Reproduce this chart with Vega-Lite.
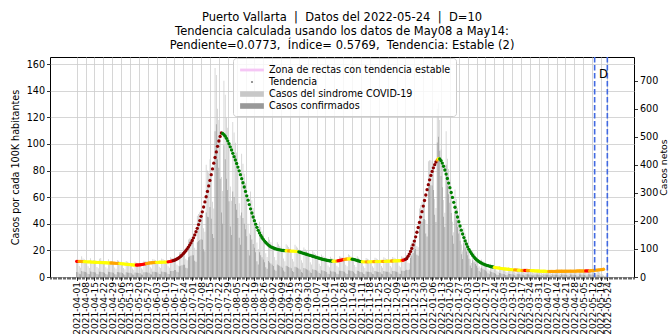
{
"$schema":"https://vega.github.io/schema/vega-lite/v6.json",
"width":584,"height":220,
"autosize":{"type":"none"},
"padding":{"left":50,"top":57,"right":38,"bottom":59},
"background":"white",
"config":{"view":{"stroke":"#000","strokeWidth":1},"font":"DejaVu Sans"},
"title":{"text":["Puerto Vallarta \u00a0|\u00a0 Datos del 2022-05-24 \u00a0|\u00a0 D=10","Tendencia calculada usando los datos de May08 a May14:","Pendiente=0.0773, \u00a0Índice= 0.5769, \u00a0Tendencia: Estable (2)"],"font":"DejaVu Sans","fontSize":11.5,"fontWeight":"normal","color":"#000","lineHeight":14,"offset":5,"anchor":"middle"},
"data":{"values":[
{"d":"2021-04-01","t":11.8,"k":"r","s":61,"c":18},{"d":"2021-04-02","t":11.8,"k":"r","s":56,"c":17},{"d":"2021-04-03","t":11.7,"k":"o","s":39,"c":12},{"d":"2021-04-04","t":11.7,"k":"o","s":33,"c":10},{"d":"2021-04-05","t":11.6,"k":"o","s":74,"c":21},{"d":"2021-04-06","t":11.6,"k":"o","s":66,"c":20},{"d":"2021-04-07","t":11.5,"k":"y","s":63,"c":19},{"d":"2021-04-08","t":11.5,"k":"y","s":60,"c":18},{"d":"2021-04-09","t":11.4,"k":"y","s":54,"c":16},{"d":"2021-04-10","t":11.4,"k":"y","s":38,"c":11},{"d":"2021-04-11","t":11.3,"k":"y","s":32,"c":10},{"d":"2021-04-12","t":11.3,"k":"y","s":67,"c":20},{"d":"2021-04-13","t":11.2,"k":"y","s":58,"c":19},{"d":"2021-04-14","t":11.2,"k":"y","s":61,"c":18},{"d":"2021-04-15","t":11.1,"k":"y","s":58,"c":17},{"d":"2021-04-16","t":11.1,"k":"y","s":53,"c":16},{"d":"2021-04-17","t":11.0,"k":"y","s":36,"c":11},{"d":"2021-04-18","t":11.0,"k":"y","s":31,"c":9},{"d":"2021-04-19","t":10.9,"k":"y","s":65,"c":19},{"d":"2021-04-20","t":10.9,"k":"y","s":68,"c":19},{"d":"2021-04-21","t":10.8,"k":"y","s":59,"c":18},{"d":"2021-04-22","t":10.8,"k":"y","s":56,"c":17},{"d":"2021-04-23","t":10.7,"k":"y","s":51,"c":15},{"d":"2021-04-24","t":10.7,"k":"y","s":35,"c":11},{"d":"2021-04-25","t":10.6,"k":"y","s":30,"c":9},{"d":"2021-04-26","t":10.6,"k":"y","s":63,"c":19},{"d":"2021-04-27","t":10.5,"k":"y","s":55,"c":18},{"d":"2021-04-28","t":10.5,"k":"o","s":57,"c":17},{"d":"2021-04-29","t":10.5,"k":"o","s":55,"c":16},{"d":"2021-04-30","t":10.4,"k":"o","s":49,"c":15},
{"d":"2021-05-01","t":10.4,"k":"o","s":34,"c":10},{"d":"2021-05-02","t":10.3,"k":"o","s":29,"c":9},{"d":"2021-05-03","t":10.3,"k":"o","s":61,"c":18},{"d":"2021-05-04","t":10.2,"k":"o","s":58,"c":17},{"d":"2021-05-05","t":10.1,"k":"y","s":55,"c":16},{"d":"2021-05-06","t":10.0,"k":"y","s":52,"c":16},{"d":"2021-05-07","t":9.9,"k":"y","s":47,"c":14},{"d":"2021-05-08","t":9.8,"k":"y","s":32,"c":10},{"d":"2021-05-09","t":9.7,"k":"y","s":28,"c":8},{"d":"2021-05-10","t":9.6,"k":"y","s":57,"c":17},{"d":"2021-05-11","t":9.5,"k":"y","s":54,"c":16},{"d":"2021-05-12","t":9.4,"k":"y","s":51,"c":15},{"d":"2021-05-13","t":9.3,"k":"y","s":48,"c":15},{"d":"2021-05-14","t":9.2,"k":"y","s":44,"c":13},{"d":"2021-05-15","t":9.1,"k":"y","s":30,"c":9},{"d":"2021-05-16","t":9.0,"k":"y","s":26,"c":8},{"d":"2021-05-17","t":9.0,"k":"y","s":54,"c":16},{"d":"2021-05-18","t":9.0,"k":"r","s":51,"c":15},{"d":"2021-05-19","t":9.0,"k":"r","s":49,"c":15},{"d":"2021-05-20","t":9.1,"k":"r","s":47,"c":14},{"d":"2021-05-21","t":9.2,"k":"r","s":44,"c":13},{"d":"2021-05-22","t":9.3,"k":"r","s":31,"c":9},{"d":"2021-05-23","t":9.5,"k":"r","s":27,"c":8},{"d":"2021-05-24","t":9.7,"k":"r","s":58,"c":17},{"d":"2021-05-25","t":9.9,"k":"r","s":56,"c":17},{"d":"2021-05-26","t":10.1,"k":"o","s":55,"c":17},{"d":"2021-05-27","t":10.3,"k":"o","s":54,"c":16},{"d":"2021-05-28","t":10.5,"k":"o","s":50,"c":15},{"d":"2021-05-29","t":10.6,"k":"o","s":35,"c":10},{"d":"2021-05-30","t":10.7,"k":"o","s":30,"c":9},{"d":"2021-05-31","t":10.8,"k":"o","s":64,"c":19},
{"d":"2021-06-01","t":10.9,"k":"o","s":62,"c":19},{"d":"2021-06-02","t":11.0,"k":"o","s":60,"c":18},{"d":"2021-06-03","t":11.0,"k":"y","s":57,"c":17},{"d":"2021-06-04","t":11.0,"k":"y","s":52,"c":16},{"d":"2021-06-05","t":11.1,"k":"y","s":37,"c":11},{"d":"2021-06-06","t":11.1,"k":"y","s":32,"c":10},{"d":"2021-06-07","t":11.1,"k":"y","s":66,"c":20},{"d":"2021-06-08","t":11.2,"k":"y","s":64,"c":19},{"d":"2021-06-09","t":11.2,"k":"y","s":61,"c":18},{"d":"2021-06-10","t":11.2,"k":"y","s":58,"c":17},{"d":"2021-06-11","t":11.3,"k":"y","s":54,"c":16},{"d":"2021-06-12","t":11.4,"k":"r","s":38,"c":11},{"d":"2021-06-13","t":11.6,"k":"r","s":33,"c":10},{"d":"2021-06-14","t":11.8,"k":"r","s":70,"c":21},{"d":"2021-06-15","t":12.0,"k":"r","s":68,"c":21},{"d":"2021-06-16","t":12.3,"k":"dr","s":67,"c":21},{"d":"2021-06-17","t":12.6,"k":"dr","s":66,"c":25},{"d":"2021-06-18","t":13.0,"k":"dr","s":62,"c":25},{"d":"2021-06-19","t":13.5,"k":"dr","s":45,"c":19},{"d":"2021-06-20","t":14.1,"k":"dr","s":40,"c":17},{"d":"2021-06-21","t":14.8,"k":"dr","s":88,"c":38},{"d":"2021-06-22","t":15.6,"k":"dr","s":89,"c":40},{"d":"2021-06-23","t":16.5,"k":"dr","s":90,"c":42},{"d":"2021-06-24","t":17.5,"k":"dr","s":91,"c":44},{"d":"2021-06-25","t":18.6,"k":"dr","s":88,"c":44},{"d":"2021-06-26","t":19.8,"k":"dr","s":65,"c":33},{"d":"2021-06-27","t":21.1,"k":"dr","s":60,"c":31},{"d":"2021-06-28","t":22.5,"k":"dr","s":134,"c":70},{"d":"2021-06-29","t":24.0,"k":"dr","s":137,"c":73},{"d":"2021-06-30","t":25.6,"k":"dr","s":140,"c":76},
{"d":"2021-07-01","t":27.4,"k":"dr","s":142,"c":78},{"d":"2021-07-02","t":29.4,"k":"dr","s":140,"c":78},{"d":"2021-07-03","t":31.6,"k":"dr","s":104,"c":58},{"d":"2021-07-04","t":34.0,"k":"dr","s":97,"c":54},{"d":"2021-07-05","t":36.6,"k":"dr","s":218,"c":124},{"d":"2021-07-06","t":39.4,"k":"dr","s":225,"c":128},{"d":"2021-07-07","t":42.4,"k":"dr","s":231,"c":132},{"d":"2021-07-08","t":45.6,"k":"dr","s":237,"c":135},{"d":"2021-07-09","t":49.0,"k":"dr","s":233,"c":133},{"d":"2021-07-10","t":52.6,"k":"dr","s":174,"c":99},{"d":"2021-07-11","t":56.4,"k":"dr","s":161,"c":92},{"d":"2021-07-12","t":60.3,"k":"dr","s":400,"c":230},{"d":"2021-07-13","t":64.3,"k":"dr","s":380,"c":215},{"d":"2021-07-14","t":68.4,"k":"dr","s":373,"c":213},{"d":"2021-07-15","t":72.6,"k":"dr","s":420,"c":250},{"d":"2021-07-16","t":76.9,"k":"dr","s":365,"c":208},{"d":"2021-07-17","t":81.2,"k":"dr","s":268,"c":153},{"d":"2021-07-18","t":85.5,"k":"dr","s":244,"c":139},{"d":"2021-07-19","t":89.8,"k":"dr","s":745,"c":520},{"d":"2021-07-20","t":94.0,"k":"dr","s":720,"c":545},{"d":"2021-07-21","t":98.2,"k":"dr","s":600,"c":420},{"d":"2021-07-22","t":102.2,"k":"dr","s":560,"c":390},{"d":"2021-07-23","t":105.6,"k":"dr","s":520,"c":350},{"d":"2021-07-24","t":108.2,"k":"dr","s":357,"c":230},{"d":"2021-07-25","t":107.8,"k":"g","s":307,"c":190},{"d":"2021-07-26","t":107.0,"k":"g","s":700,"c":470},{"d":"2021-07-27","t":105.8,"k":"g","s":650,"c":420},{"d":"2021-07-28","t":104.2,"k":"g","s":568,"c":350},{"d":"2021-07-29","t":102.3,"k":"g","s":532,"c":310},{"d":"2021-07-30","t":100.1,"k":"g","s":475,"c":270},{"d":"2021-07-31","t":97.8,"k":"g","s":323,"c":180},
{"d":"2021-08-01","t":95.4,"k":"g","s":272,"c":150},{"d":"2021-08-02","t":92.9,"k":"g","s":553,"c":305},{"d":"2021-08-03","t":90.4,"k":"g","s":515,"c":285},{"d":"2021-08-04","t":87.9,"k":"g","s":479,"c":260},{"d":"2021-08-05","t":85.3,"k":"g","s":444,"c":240},{"d":"2021-08-06","t":82.6,"k":"g","s":392,"c":210},{"d":"2021-08-07","t":79.8,"k":"g","s":263,"c":140},{"d":"2021-08-08","t":76.9,"k":"g","s":219,"c":115},{"d":"2021-08-09","t":73.9,"k":"g","s":440,"c":230},{"d":"2021-08-10","t":70.8,"k":"g","s":404,"c":210},{"d":"2021-08-11","t":67.6,"k":"g","s":368,"c":190},{"d":"2021-08-12","t":64.3,"k":"g","s":334,"c":170},{"d":"2021-08-13","t":61.0,"k":"g","s":290,"c":145},{"d":"2021-08-14","t":57.7,"k":"g","s":190,"c":95},{"d":"2021-08-15","t":54.4,"k":"g","s":155,"c":77},{"d":"2021-08-16","t":51.2,"k":"g","s":305,"c":150},{"d":"2021-08-17","t":48.1,"k":"g","s":274,"c":134},{"d":"2021-08-18","t":45.1,"k":"g","s":246,"c":118},{"d":"2021-08-19","t":42.3,"k":"g","s":220,"c":104},{"d":"2021-08-20","t":39.7,"k":"g","s":189,"c":88},{"d":"2021-08-21","t":37.3,"k":"g","s":123,"c":56},{"d":"2021-08-22","t":35.1,"k":"g","s":100,"c":45},{"d":"2021-08-23","t":33.1,"k":"g","s":197,"c":88},{"d":"2021-08-24","t":31.3,"k":"g","s":178,"c":78},{"d":"2021-08-25","t":29.7,"k":"g","s":162,"c":70},{"d":"2021-08-26","t":28.3,"k":"g","s":147,"c":62},{"d":"2021-08-27","t":27.0,"k":"g","s":128,"c":53},{"d":"2021-08-28","t":25.9,"k":"g","s":85,"c":35},{"d":"2021-08-29","t":24.9,"k":"g","s":71,"c":29},{"d":"2021-08-30","t":24.0,"k":"g","s":143,"c":57},{"d":"2021-08-31","t":23.3,"k":"g","s":133,"c":52},
{"d":"2021-09-01","t":22.7,"k":"g","s":124,"c":48},{"d":"2021-09-02","t":22.2,"k":"g","s":115,"c":44},{"d":"2021-09-03","t":21.8,"k":"g","s":104,"c":39},{"d":"2021-09-04","t":21.4,"k":"g","s":71,"c":26},{"d":"2021-09-05","t":21.1,"k":"g","s":60,"c":22},{"d":"2021-09-06","t":20.8,"k":"g","s":124,"c":45},{"d":"2021-09-07","t":20.6,"k":"g","s":117,"c":42},{"d":"2021-09-08","t":20.4,"k":"g","s":111,"c":40},{"d":"2021-09-09","t":20.2,"k":"g","s":105,"c":37},{"d":"2021-09-10","t":20.0,"k":"g","s":95,"c":33},{"d":"2021-09-11","t":19.9,"k":"g","s":66,"c":23},{"d":"2021-09-12","t":19.8,"k":"g","s":56,"c":19},{"d":"2021-09-13","t":19.7,"k":"y","s":117,"c":40},{"d":"2021-09-14","t":19.7,"k":"y","s":112,"c":38},{"d":"2021-09-15","t":19.6,"k":"o","s":107,"c":36},{"d":"2021-09-16","t":19.6,"k":"o","s":102,"c":34},{"d":"2021-09-17","t":19.5,"k":"y","s":93,"c":31},{"d":"2021-09-18","t":19.5,"k":"y","s":64,"c":21},{"d":"2021-09-19","t":19.4,"k":"y","s":55,"c":18},{"d":"2021-09-20","t":19.3,"k":"y","s":115,"c":37},{"d":"2021-09-21","t":19.2,"k":"y","s":109,"c":35},{"d":"2021-09-22","t":19.1,"k":"y","s":104,"c":33},{"d":"2021-09-23","t":18.9,"k":"g","s":98,"c":30},{"d":"2021-09-24","t":18.6,"k":"g","s":88,"c":27},{"d":"2021-09-25","t":18.3,"k":"g","s":60,"c":18},{"d":"2021-09-26","t":18.0,"k":"g","s":51,"c":15},{"d":"2021-09-27","t":17.7,"k":"g","s":105,"c":32},{"d":"2021-09-28","t":17.4,"k":"g","s":99,"c":30},{"d":"2021-09-29","t":17.1,"k":"g","s":93,"c":28},{"d":"2021-09-30","t":16.8,"k":"g","s":87,"c":26},
{"d":"2021-10-01","t":16.5,"k":"g","s":78,"c":23},{"d":"2021-10-02","t":16.2,"k":"g","s":53,"c":16},{"d":"2021-10-03","t":15.9,"k":"g","s":45,"c":14},{"d":"2021-10-04","t":15.6,"k":"g","s":93,"c":28},{"d":"2021-10-05","t":15.3,"k":"g","s":87,"c":26},{"d":"2021-10-06","t":15.0,"k":"g","s":82,"c":25},{"d":"2021-10-07","t":14.7,"k":"g","s":76,"c":23},{"d":"2021-10-08","t":14.4,"k":"g","s":68,"c":20},{"d":"2021-10-09","t":14.1,"k":"g","s":47,"c":14},{"d":"2021-10-10","t":13.8,"k":"g","s":39,"c":12},{"d":"2021-10-11","t":13.5,"k":"g","s":80,"c":24},{"d":"2021-10-12","t":13.2,"k":"g","s":75,"c":23},{"d":"2021-10-13","t":13.0,"k":"g","s":71,"c":21},{"d":"2021-10-14","t":12.8,"k":"g","s":67,"c":20},{"d":"2021-10-15","t":12.6,"k":"g","s":60,"c":18},{"d":"2021-10-16","t":12.4,"k":"g","s":41,"c":12},{"d":"2021-10-17","t":12.2,"k":"g","s":35,"c":10},{"d":"2021-10-18","t":12.1,"k":"g","s":72,"c":22},{"d":"2021-10-19","t":12.0,"k":"g","s":68,"c":20},{"d":"2021-10-20","t":11.9,"k":"y","s":65,"c":20},{"d":"2021-10-21","t":11.9,"k":"y","s":62,"c":19},{"d":"2021-10-22","t":11.9,"k":"y","s":57,"c":17},{"d":"2021-10-23","t":12.0,"k":"o","s":40,"c":12},{"d":"2021-10-24","t":12.2,"k":"r","s":35,"c":10},{"d":"2021-10-25","t":12.4,"k":"r","s":74,"c":22},{"d":"2021-10-26","t":12.6,"k":"r","s":72,"c":22},{"d":"2021-10-27","t":12.8,"k":"r","s":70,"c":21},{"d":"2021-10-28","t":13.0,"k":"r","s":68,"c":20},{"d":"2021-10-29","t":13.2,"k":"o","s":63,"c":19},{"d":"2021-10-30","t":13.4,"k":"o","s":44,"c":13},{"d":"2021-10-31","t":13.5,"k":"o","s":38,"c":11},
{"d":"2021-11-01","t":13.6,"k":"y","s":81,"c":24},{"d":"2021-11-02","t":13.6,"k":"y","s":78,"c":23},{"d":"2021-11-03","t":13.5,"k":"y","s":74,"c":22},{"d":"2021-11-04","t":13.4,"k":"g","s":70,"c":21},{"d":"2021-11-05","t":13.2,"k":"g","s":63,"c":19},{"d":"2021-11-06","t":13.0,"k":"g","s":43,"c":13},{"d":"2021-11-07","t":12.7,"k":"g","s":36,"c":11},{"d":"2021-11-08","t":12.4,"k":"g","s":74,"c":22},{"d":"2021-11-09","t":12.1,"k":"g","s":69,"c":21},{"d":"2021-11-10","t":11.8,"k":"g","s":64,"c":19},{"d":"2021-11-11","t":11.6,"k":"g","s":60,"c":18},{"d":"2021-11-12","t":11.5,"k":"y","s":55,"c":16},{"d":"2021-11-13","t":11.4,"k":"y","s":38,"c":11},{"d":"2021-11-14","t":11.4,"k":"y","s":32,"c":10},{"d":"2021-11-15","t":11.4,"k":"o","s":68,"c":20},{"d":"2021-11-16","t":11.4,"k":"o","s":65,"c":19},{"d":"2021-11-17","t":11.4,"k":"y","s":62,"c":19},{"d":"2021-11-18","t":11.4,"k":"y","s":59,"c":18},{"d":"2021-11-19","t":11.5,"k":"y","s":55,"c":16},{"d":"2021-11-20","t":11.5,"k":"y","s":38,"c":11},{"d":"2021-11-21","t":11.5,"k":"o","s":33,"c":10},{"d":"2021-11-22","t":11.6,"k":"o","s":69,"c":21},{"d":"2021-11-23","t":11.6,"k":"y","s":66,"c":20},{"d":"2021-11-24","t":11.6,"k":"y","s":63,"c":19},{"d":"2021-11-25","t":11.6,"k":"y","s":60,"c":18},{"d":"2021-11-26","t":11.7,"k":"y","s":56,"c":17},{"d":"2021-11-27","t":11.7,"k":"y","s":39,"c":12},{"d":"2021-11-28","t":11.7,"k":"o","s":33,"c":10},{"d":"2021-11-29","t":11.8,"k":"o","s":70,"c":21},{"d":"2021-11-30","t":11.8,"k":"y","s":67,"c":20},
{"d":"2021-12-01","t":11.8,"k":"y","s":64,"c":19},{"d":"2021-12-02","t":11.9,"k":"y","s":62,"c":19},{"d":"2021-12-03","t":11.9,"k":"y","s":57,"c":17},{"d":"2021-12-04","t":11.9,"k":"y","s":39,"c":12},{"d":"2021-12-05","t":12.0,"k":"o","s":34,"c":10},{"d":"2021-12-06","t":12.0,"k":"o","s":71,"c":21},{"d":"2021-12-07","t":12.1,"k":"y","s":69,"c":21},{"d":"2021-12-08","t":12.1,"k":"y","s":66,"c":20},{"d":"2021-12-09","t":12.1,"k":"y","s":63,"c":19},{"d":"2021-12-10","t":12.2,"k":"y","s":58,"c":17},{"d":"2021-12-11","t":12.2,"k":"y","s":40,"c":12},{"d":"2021-12-12","t":12.3,"k":"y","s":35,"c":11},{"d":"2021-12-13","t":12.4,"k":"o","s":74,"c":22},{"d":"2021-12-14","t":12.6,"k":"r","s":72,"c":22},{"d":"2021-12-15","t":12.9,"k":"r","s":70,"c":21},{"d":"2021-12-16","t":13.3,"k":"dr","s":69,"c":24},{"d":"2021-12-17","t":13.9,"k":"dr","s":66,"c":26},{"d":"2021-12-18","t":15.5,"k":"dr","s":51,"c":25},{"d":"2021-12-19","t":17.2,"k":"dr","s":49,"c":27},{"d":"2021-12-20","t":19.2,"k":"dr","s":114,"c":68},{"d":"2021-12-21","t":21.5,"k":"dr","s":123,"c":77},{"d":"2021-12-22","t":24.1,"k":"dr","s":131,"c":86},{"d":"2021-12-23","t":27.0,"k":"dr","s":140,"c":95},{"d":"2021-12-24","t":30.2,"k":"dr","s":143,"c":100},{"d":"2021-12-25","t":33.6,"k":"dr","s":111,"c":79},{"d":"2021-12-26","t":37.2,"k":"dr","s":106,"c":76},{"d":"2021-12-27","t":41.0,"k":"dr","s":244,"c":176},{"d":"2021-12-28","t":45.0,"k":"dr","s":257,"c":188},{"d":"2021-12-29","t":49.1,"k":"dr","s":268,"c":198},{"d":"2021-12-30","t":53.3,"k":"dr","s":277,"c":207},{"d":"2021-12-31","t":57.5,"k":"dr","s":273,"c":207},
{"d":"2022-01-01","t":61.6,"k":"dr","s":203,"c":155},{"d":"2022-01-02","t":65.6,"k":"dr","s":187,"c":144},{"d":"2022-01-03","t":69.4,"k":"dr","s":413,"c":320},{"d":"2022-01-04","t":73.0,"k":"dr","s":416,"c":325},{"d":"2022-01-05","t":76.3,"k":"dr","s":416,"c":327},{"d":"2022-01-06","t":79.3,"k":"dr","s":412,"c":326},{"d":"2022-01-07","t":82.0,"k":"dr","s":390,"c":310},{"d":"2022-01-08","t":84.4,"k":"dr","s":279,"c":222},{"d":"2022-01-09","t":86.4,"k":"dr","s":246,"c":196},{"d":"2022-01-10","t":88.0,"k":"o","s":600,"c":480},{"d":"2022-01-11","t":88.9,"k":"y","s":620,"c":500},{"d":"2022-01-12","t":88.7,"k":"g","s":560,"c":450},{"d":"2022-01-13","t":87.5,"k":"g","s":455,"c":360},{"d":"2022-01-14","t":85.6,"k":"g","s":407,"c":320},{"d":"2022-01-15","t":83.2,"k":"g","s":275,"c":215},{"d":"2022-01-16","t":80.4,"k":"g","s":229,"c":178},{"d":"2022-01-17","t":77.3,"k":"g","s":520,"c":400},{"d":"2022-01-18","t":74.0,"k":"g","s":422,"c":325},{"d":"2022-01-19","t":70.6,"k":"g","s":385,"c":295},{"d":"2022-01-20","t":67.1,"k":"g","s":349,"c":265},{"d":"2022-01-21","t":63.5,"k":"g","s":302,"c":228},{"d":"2022-01-22","t":59.8,"k":"g","s":197,"c":148},{"d":"2022-01-23","t":56.1,"k":"g","s":160,"c":119},{"d":"2022-01-24","t":52.4,"k":"g","s":312,"c":230},{"d":"2022-01-25","t":48.7,"k":"g","s":278,"c":203},{"d":"2022-01-26","t":45.1,"k":"g","s":246,"c":178},{"d":"2022-01-27","t":41.6,"k":"g","s":216,"c":155},{"d":"2022-01-28","t":38.3,"k":"g","s":182,"c":129},{"d":"2022-01-29","t":35.2,"k":"g","s":116,"c":81},{"d":"2022-01-30","t":32.3,"k":"g","s":92,"c":64},{"d":"2022-01-31","t":29.6,"k":"g","s":176,"c":121},
{"d":"2022-02-01","t":27.1,"k":"g","s":154,"c":105},{"d":"2022-02-02","t":24.8,"k":"g","s":135,"c":91},{"d":"2022-02-03","t":22.7,"k":"g","s":118,"c":78},{"d":"2022-02-04","t":20.8,"k":"g","s":99,"c":65},{"d":"2022-02-05","t":19.1,"k":"g","s":63,"c":41},{"d":"2022-02-06","t":17.6,"k":"g","s":50,"c":32},{"d":"2022-02-07","t":16.2,"k":"g","s":96,"c":60},{"d":"2022-02-08","t":15.0,"k":"g","s":86,"c":53},{"d":"2022-02-09","t":13.9,"k":"g","s":76,"c":46},{"d":"2022-02-10","t":13.0,"k":"g","s":68,"c":40},{"d":"2022-02-11","t":12.2,"k":"g","s":58,"c":33},{"d":"2022-02-12","t":11.5,"k":"g","s":38,"c":21},{"d":"2022-02-13","t":10.9,"k":"g","s":31,"c":17},{"d":"2022-02-14","t":10.4,"k":"g","s":62,"c":33},{"d":"2022-02-15","t":9.9,"k":"g","s":56,"c":29},{"d":"2022-02-16","t":9.5,"k":"g","s":52,"c":26},{"d":"2022-02-17","t":9.1,"k":"g","s":47,"c":23},{"d":"2022-02-18","t":8.8,"k":"g","s":42,"c":20},{"d":"2022-02-19","t":8.5,"k":"g","s":28,"c":13},{"d":"2022-02-20","t":8.2,"k":"g","s":23,"c":10},{"d":"2022-02-21","t":7.9,"k":"g","s":47,"c":20},{"d":"2022-02-22","t":7.7,"k":"g","s":44,"c":18},{"d":"2022-02-23","t":7.5,"k":"g","s":41,"c":16},{"d":"2022-02-24","t":7.3,"k":"y","s":38,"c":14},{"d":"2022-02-25","t":7.1,"k":"y","s":34,"c":12},{"d":"2022-02-26","t":6.9,"k":"y","s":23,"c":8},{"d":"2022-02-27","t":6.8,"k":"y","s":19,"c":7},{"d":"2022-02-28","t":6.6,"k":"y","s":39,"c":14},
{"d":"2022-03-01","t":6.5,"k":"y","s":37,"c":13},{"d":"2022-03-02","t":6.3,"k":"y","s":34,"c":12},{"d":"2022-03-03","t":6.2,"k":"y","s":32,"c":11},{"d":"2022-03-04","t":6.1,"k":"y","s":29,"c":10},{"d":"2022-03-05","t":6.0,"k":"y","s":20,"c":7},{"d":"2022-03-06","t":5.9,"k":"y","s":17,"c":6},{"d":"2022-03-07","t":5.8,"k":"y","s":35,"c":12},{"d":"2022-03-08","t":5.7,"k":"y","s":32,"c":11},{"d":"2022-03-09","t":5.6,"k":"y","s":31,"c":11},{"d":"2022-03-10","t":5.5,"k":"y","s":29,"c":10},{"d":"2022-03-11","t":5.4,"k":"y","s":26,"c":9},{"d":"2022-03-12","t":5.3,"k":"o","s":17,"c":6},{"d":"2022-03-13","t":5.3,"k":"o","s":15,"c":5},{"d":"2022-03-14","t":5.2,"k":"o","s":31,"c":11},{"d":"2022-03-15","t":5.1,"k":"y","s":29,"c":10},{"d":"2022-03-16","t":5.1,"k":"y","s":28,"c":10},{"d":"2022-03-17","t":5.0,"k":"y","s":26,"c":9},{"d":"2022-03-18","t":4.9,"k":"o","s":23,"c":8},{"d":"2022-03-19","t":4.9,"k":"o","s":16,"c":6},{"d":"2022-03-20","t":4.9,"k":"r","s":14,"c":5},{"d":"2022-03-21","t":4.9,"k":"r","s":29,"c":10},{"d":"2022-03-22","t":4.9,"k":"o","s":28,"c":10},{"d":"2022-03-23","t":4.8,"k":"o","s":26,"c":9},{"d":"2022-03-24","t":4.8,"k":"o","s":25,"c":9},{"d":"2022-03-25","t":4.8,"k":"y","s":23,"c":8},{"d":"2022-03-26","t":4.7,"k":"y","s":16,"c":5},{"d":"2022-03-27","t":4.7,"k":"y","s":13,"c":5},{"d":"2022-03-28","t":4.6,"k":"y","s":27,"c":9},{"d":"2022-03-29","t":4.6,"k":"y","s":26,"c":9},{"d":"2022-03-30","t":4.5,"k":"y","s":25,"c":9},{"d":"2022-03-31","t":4.5,"k":"y","s":23,"c":8},
{"d":"2022-04-01","t":4.4,"k":"y","s":21,"c":7},{"d":"2022-04-02","t":4.4,"k":"y","s":15,"c":5},{"d":"2022-04-03","t":4.3,"k":"y","s":12,"c":4},{"d":"2022-04-04","t":4.3,"k":"y","s":26,"c":9},{"d":"2022-04-05","t":4.3,"k":"y","s":25,"c":9},{"d":"2022-04-06","t":4.2,"k":"y","s":23,"c":8},{"d":"2022-04-07","t":4.2,"k":"y","s":22,"c":8},{"d":"2022-04-08","t":4.2,"k":"o","s":20,"c":7},{"d":"2022-04-09","t":4.2,"k":"o","s":14,"c":5},{"d":"2022-04-10","t":4.2,"k":"o","s":12,"c":4},{"d":"2022-04-11","t":4.2,"k":"o","s":25,"c":9},{"d":"2022-04-12","t":4.2,"k":"o","s":24,"c":8},{"d":"2022-04-13","t":4.2,"k":"o","s":23,"c":8},{"d":"2022-04-14","t":4.3,"k":"o","s":22,"c":8},{"d":"2022-04-15","t":4.3,"k":"o","s":20,"c":7},{"d":"2022-04-16","t":4.3,"k":"o","s":14,"c":5},{"d":"2022-04-17","t":4.3,"k":"o","s":12,"c":4},{"d":"2022-04-18","t":4.3,"k":"o","s":26,"c":9},{"d":"2022-04-19","t":4.3,"k":"o","s":25,"c":9},{"d":"2022-04-20","t":4.3,"k":"o","s":23,"c":8},{"d":"2022-04-21","t":4.3,"k":"o","s":22,"c":8},{"d":"2022-04-22","t":4.4,"k":"o","s":21,"c":7},{"d":"2022-04-23","t":4.4,"k":"o","s":15,"c":5},{"d":"2022-04-24","t":4.4,"k":"o","s":13,"c":4},{"d":"2022-04-25","t":4.4,"k":"o","s":26,"c":9},{"d":"2022-04-26","t":4.4,"k":"o","s":25,"c":9},{"d":"2022-04-27","t":4.4,"k":"o","s":24,"c":8},{"d":"2022-04-28","t":4.4,"k":"o","s":23,"c":8},{"d":"2022-04-29","t":4.4,"k":"o","s":21,"c":7},{"d":"2022-04-30","t":4.5,"k":"o","s":15,"c":5},
{"d":"2022-05-01","t":4.5,"k":"o","s":13,"c":4},{"d":"2022-05-02","t":4.5,"k":"o","s":27,"c":9},{"d":"2022-05-03","t":4.5,"k":"o","s":26,"c":9},{"d":"2022-05-04","t":4.5,"k":"o","s":25,"c":9},{"d":"2022-05-05","t":4.5,"k":"o","s":23,"c":8},{"d":"2022-05-06","t":4.5,"k":"o","s":21,"c":7},{"d":"2022-05-07","t":4.6,"k":"r","s":15,"c":5},{"d":"2022-05-08","t":4.6,"k":"r","s":13,"c":5},{"d":"2022-05-09","t":4.6,"k":"r","s":27,"c":10},{"d":"2022-05-10","t":4.6,"k":"o","s":26,"c":9},{"d":"2022-05-11","t":4.7,"k":"o","s":26,"c":9},{"d":"2022-05-12","t":4.8,"k":"o","s":25,"c":9},{"d":"2022-05-13","t":4.9,"k":"o","s":23,"c":8},{"d":"2022-05-14","t":5.0,"k":"o","s":17,"c":6},{"d":"2022-05-15","t":5.1,"k":"o","s":13,"c":5},{"d":"2022-05-16","t":5.2,"k":"o","s":24,"c":8},{"d":"2022-05-17","t":5.3,"k":"o","s":20,"c":7},{"d":"2022-05-18","t":5.4,"k":"o","s":16,"c":5},{"d":"2022-05-19","t":5.5,"k":"o","s":12,"c":4},{"d":"2022-05-20","t":5.6,"k":"o","s":10,"c":3},{"d":"2022-05-21","t":5.8,"k":"o","s":6,"c":2},{"d":"2022-05-22","s":4,"c":1},{"d":"2022-05-23","s":6,"c":2},{"d":"2022-05-24","s":2,"c":1}
]},
"layer":[
{"transform":[{"fold":["s","c"],"as":["serie","v"]}],
 "mark":{"type":"bar","width":0.7},
 "encoding":{
  "x":{"field":"d","type":"temporal","scale":{"type":"utc","domain":[1615420800000,1655164800000],"padding":0},
   "axis":{"orient":"bottom","values":[1617235200000,1617840000000,1618444800000,1619049600000,1619654400000,1620259200000,1620864000000,1621468800000,1622073600000,1622678400000,1623283200000,1623888000000,1624492800000,1625097600000,1625702400000,1626307200000,1626912000000,1627516800000,1628121600000,1628726400000,1629331200000,1629936000000,1630540800000,1631145600000,1631750400000,1632355200000,1632960000000,1633564800000,1634169600000,1634774400000,1635379200000,1635984000000,1636588800000,1637193600000,1637798400000,1638403200000,1639008000000,1639612800000,1640217600000,1640822400000,1641427200000,1642032000000,1642636800000,1643241600000,1643846400000,1644451200000,1645056000000,1645660800000,1646265600000,1646870400000,1647475200000,1648080000000,1648684800000,1649289600000,1649894400000,1650499200000,1651104000000,1651708800000,1652313600000,1652918400000,1653350400000],
    "labelExpr":"utcFormat(datum.value,'%Y-%m-%d')","labelAngle":270,"labelFont":"DejaVu Sans","labelFontSize":9.1,"labelColor":"#000","labelOverlap":false,"labelFlush":false,"labelBound":false,"labelPadding":1,"tickColor":"#000","tickSize":3.5,"tickWidth":0.8,"grid":true,"gridColor":"#cccccc","gridWidth":0.8,"domain":false,"title":null}},
  "y":{"field":"v","type":"quantitative","stack":null,"scale":{"domain":[0,784.6],"nice":false},
   "axis":{"orient":"right","values":[0,100,200,300,400,500,600,700],"title":"Casos netos","titleAngle":270,"titleBaseline":"top","titleFont":"DejaVu Sans","titleFontSize":9.3,"titleFontWeight":"normal","titleColor":"#000","titlePadding":2,"labelFont":"DejaVu Sans","labelFontSize":9.6,"labelColor":"#000","tickColor":"#000","tickSize":3.5,"tickWidth":0.8,"labelPadding":2,"grid":false,"domain":false}},
  "color":{"field":"serie","type":"nominal","scale":{"domain":["z","t","s","c"],"range":["#f5c6f5","#808080","#c8c8c8","#999999"]},
   "legend":{"orient":"none","legendX":183,"legendY":1,"title":null,"padding":5,"rowPadding":0,"symbolSize":196,"symbolOffset":7,"labelOffset":10,"labelLimit":400,"labelFont":"DejaVu Sans","labelFontSize":9.6,"labelColor":"#000","fillColor":"rgba(255,255,255,0.8)","strokeColor":"#cccccc","cornerRadius":3,"symbolStrokeWidth":0,
    "labelExpr":"datum.value=='z'?'Zona de rectas con tendencia estable':datum.value=='t'?'Tendencia':datum.value=='s'?'Casos del sindrome COVID-19':'Casos confirmados'",
    "encode":{"symbols":{"update":{"shape":{"signal":"datum.value=='t'?'circle':datum.value=='z'?'M-1.7,-0.2H1.7V0.2H-1.7Z':'M-1.7,-0.4H1.7V0.4H-1.7Z'"},"size":{"signal":"datum.value=='t'?5:196"},"opacity":{"value":1}}}}}}
 }},
{"mark":{"type":"circle","size":11,"opacity":1},
 "encoding":{
  "x":{"field":"d","type":"temporal","axis":null},
  "y":{"field":"t","type":"quantitative","scale":{"domain":[0,165.3],"nice":false},
   "axis":{"orient":"left","values":[0,20,40,60,80,100,120,140,160],"title":"Casos por cada 100K habitantes","titleFont":"DejaVu Sans","titleFontSize":9.6,"titleFontWeight":"normal","titleColor":"#000","titlePadding":6,"labelFont":"DejaVu Sans","labelFontSize":9.6,"labelColor":"#000","tickColor":"#000","tickSize":3.5,"tickWidth":0.8,"labelPadding":2,"grid":true,"gridColor":"#cccccc","gridWidth":0.8,"domain":false}},
  "color":{"field":"k","type":"nominal","scale":{"domain":["y","o","r","dr","g"],"range":["#ffff00","#ffa500","#ff0000","#8b0000","#008000"]},"legend":null}
 }},
{"data":{"values":[{"d":"2022-05-14"},{"d":"2022-05-24"}]},
 "mark":{"type":"rule","color":"#4169e1","strokeDash":[5.5,2.5],"strokeWidth":1.6},
 "encoding":{"x":{"field":"d","type":"temporal","axis":{"orient":"bottom","tickCount":{"interval":"day","step":1},"labels":false,"grid":false,"domain":false,"ticks":true,"tickSize":2,"tickColor":"#000","tickWidth":0.6,"title":null}}}},
{"data":{"values":[{"d":"2022-05-21","y":152,"txt":"D"}]},
 "mark":{"type":"text","font":"DejaVu Sans","fontSize":11.5,"color":"#000","align":"center","baseline":"middle"},
 "encoding":{"x":{"field":"d","type":"temporal","axis":null},"y":{"field":"y","type":"quantitative","scale":{"domain":[0,165.3],"nice":false},"axis":null},"text":{"field":"txt"}}}
],
"resolve":{"scale":{"y":"independent","color":"independent"},"axis":{"x":"independent"}}
}
